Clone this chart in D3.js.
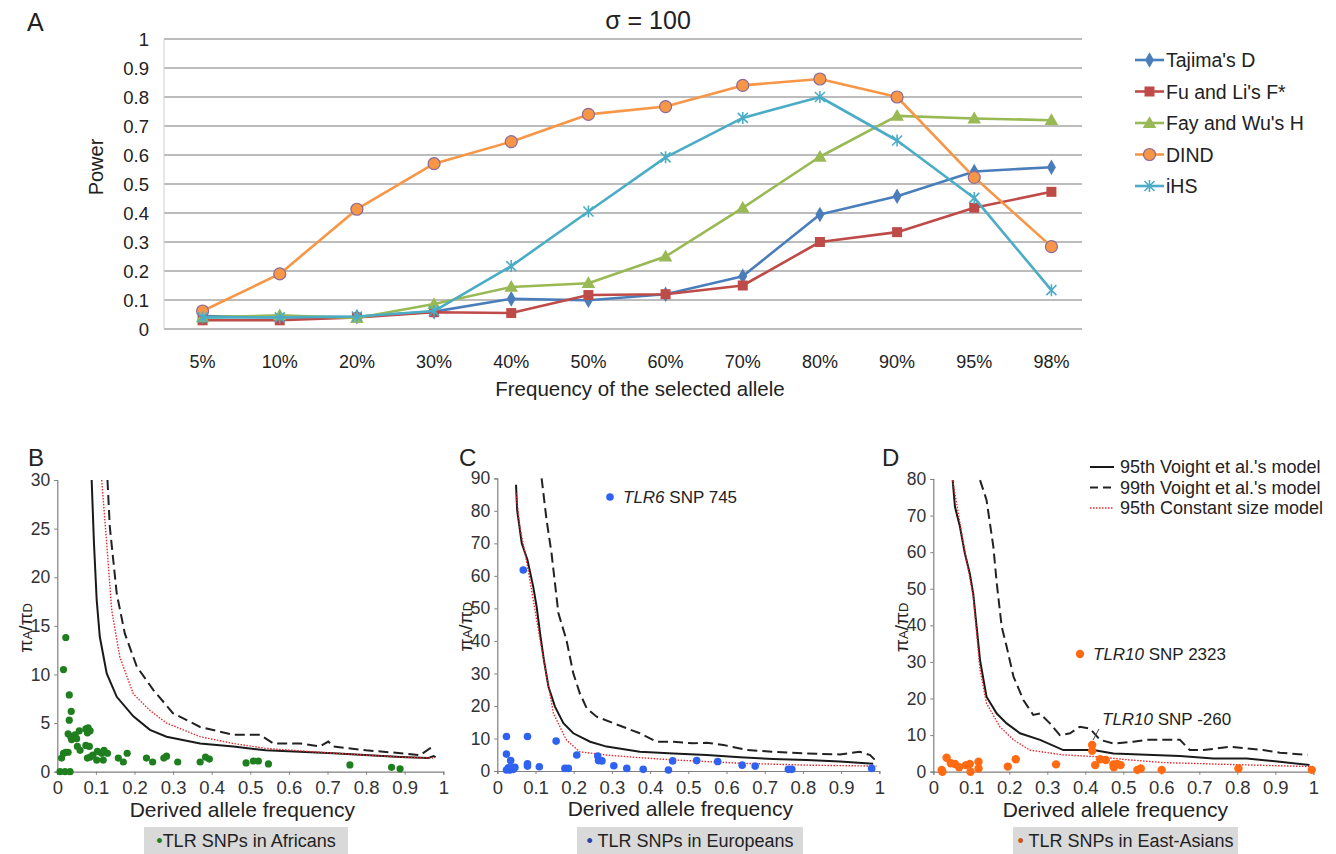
<!DOCTYPE html>
<html>
<head>
<meta charset="utf-8">
<script src="https://cdn.jsdelivr.net/npm/d3@7"></script>
<style>
  body { margin: 0; background: #fff; }
  text { font-family: "Liberation Sans", Arial, sans-serif; }
</style>
</head>
<body>
<div id="fig"></div>
<script>
// ---------------- panel A data ----------------
var freqCats = ["5%","10%","20%","30%","40%","50%","60%","70%","80%","90%","95%","98%"];
var powerTicks = [0,0.1,0.2,0.3,0.4,0.5,0.6,0.7,0.8,0.9,1];
var tajimaD = [0.045,0.04,0.042,0.06,0.104,0.099,0.12,0.182,0.395,0.458,0.543,0.558];
var fuLiF   = [0.03,0.03,0.04,0.058,0.055,0.117,0.12,0.15,0.30,0.334,0.418,0.473];
var fayWuH  = [0.04,0.047,0.038,0.086,0.145,0.158,0.25,0.418,0.594,0.735,0.726,0.72];
var dind    = [0.062,0.19,0.413,0.57,0.646,0.74,0.767,0.84,0.862,0.80,0.523,0.284];
var ihs     = [0.04,0.04,0.043,0.062,0.217,0.405,0.592,0.728,0.80,0.65,0.452,0.134];
var seriesNames = ["Tajima's D","Fu and Li's F*","Fay and Wu's H","DIND","iHS"];

// ---------------- panel B data (Africans) ----------------
var bSolid = [[0.089,30],[0.095,23.5],[0.102,17.7],[0.11,13.9],[0.128,10.1],[0.154,7.7],[0.197,5.7],[0.24,4.3],[0.283,3.6],[0.37,2.9],[0.456,2.6],[0.54,2.2],[0.715,1.9],[0.89,1.5],[0.96,1.4],[0.975,1.6],[0.98,1.5]];
var bDashed = [[0.13,30],[0.136,25.2],[0.154,18.3],[0.175,14.2],[0.206,10.8],[0.249,8.4],[0.3,6],[0.37,4.6],[0.456,3.8],[0.525,3.8],[0.56,2.9],[0.63,2.9],[0.68,2.6],[0.702,3.1],[0.715,2.6],[0.8,2.2],[0.89,1.9],[0.94,1.7],[0.965,2.4],[0.98,2.5]];
var bDotted = [[0.115,30],[0.128,23.5],[0.141,16.6],[0.162,11.8],[0.197,8],[0.24,6.3],[0.283,5],[0.37,3.6],[0.456,2.9],[0.54,2.4],[0.715,1.9],[0.89,1.5],[0.974,1.4]];
var bPoints = [[0.022,13.8],[0.016,10.5],[0.031,7.9],[0.036,6.2],[0.031,5.3],[0.028,3.9],[0.035,3.6],[0.037,3.3],[0.046,3.8],[0.05,3.4],[0.057,4.2],[0.052,2.6],[0.059,2.2],[0.074,4.4],[0.08,4.5],[0.085,4.2],[0.078,4.0],[0.074,2.7],[0.083,2.6],[0.078,1.4],[0.085,1.5],[0.092,1.7],[0.102,1.2],[0.104,2.1],[0.115,1.9],[0.119,1.2],[0.121,2.2],[0.13,1.9],[0.011,1.4],[0.016,1.9],[0.022,2.0],[0.028,2.0],[0.007,0],[0.02,0],[0.033,0],[0.158,1.4],[0.171,1.0],[0.181,1.9],[0.231,1.4],[0.247,1.0],[0.276,1.4],[0.283,1.6],[0.312,1.0],[0.37,1.0],[0.384,1.5],[0.394,1.3],[0.489,0.9],[0.508,1.1],[0.521,1.1],[0.547,0.8],[0.758,0.7],[0.866,0.45],[0.888,0.3]];

// ---------------- panel C data (Europeans) ----------------
var cSolid = [[0.049,88],[0.052,80.2],[0.064,70],[0.079,64.9],[0.094,56.7],[0.103,50.5],[0.112,42.3],[0.122,34.1],[0.134,25.9],[0.151,19.8],[0.173,14.7],[0.199,11.6],[0.243,9.0],[0.286,7.5],[0.373,5.9],[0.461,5.4],[0.548,4.9],[0.635,4.2],[0.722,3.7],[0.81,3.4],[0.897,2.9],[0.984,2.2]];
var cDashed = [[0.116,90],[0.129,77.2],[0.142,66.9],[0.151,57.7],[0.16,48.5],[0.181,40.3],[0.199,30],[0.216,23.9],[0.234,19.3],[0.26,16.7],[0.304,14.7],[0.373,11.6],[0.417,9.0],[0.461,9.0],[0.513,8.5],[0.548,8.7],[0.592,8.0],[0.653,6.5],[0.722,5.9],[0.81,5.4],[0.897,5.1],[0.949,5.9],[0.976,4.9],[0.993,2.9]];
var cDotted = [[0.049,85.4],[0.059,75.1],[0.079,63],[0.112,40.3],[0.147,17.7],[0.181,9.5],[0.216,5.9],[0.286,4.9],[0.373,4.1],[0.461,3.4],[0.635,2.4],[0.81,1.8],[0.993,1.5]];
var cPoints = [[0.068,61.8],[0.024,10.6],[0.079,10.6],[0.154,9.2],[0.024,5.2],[0.035,3.2],[0.208,4.9],[0.263,4.6],[0.265,3.2],[0.274,3.1],[0.079,2.2],[0.079,1.5],[0.11,1.3],[0.305,1.6],[0.339,0.8],[0.382,0.5],[0.448,0.3],[0.459,3.1],[0.522,3.2],[0.577,2.9],[0.641,1.8],[0.675,1.5],[0.762,0.5],[0.771,0.5],[0.98,0.8],[0.177,0.8],[0.186,0.8],[0.024,0.3],[0.029,1.0],[0.033,0.3],[0.038,1.0],[0.042,0.5],[0.046,1.1]];

// ---------------- panel D data (East-Asians) ----------------
var dSolid = [[0.051,79.7],[0.057,72.4],[0.07,67],[0.083,59.7],[0.096,54.2],[0.105,48.7],[0.114,39.6],[0.123,30.5],[0.14,20.5],[0.167,15.9],[0.193,13.2],[0.228,10.5],[0.281,8.7],[0.342,5.9],[0.421,5.9],[0.474,5.0],[0.561,4.6],[0.649,4.3],[0.737,3.6],[0.825,3.6],[0.912,2.7],[0.99,1.8]];
var dDashed = [[0.123,79.7],[0.14,74.3],[0.158,61.5],[0.167,51.5],[0.18,39.6],[0.193,34.2],[0.211,26],[0.237,19.6],[0.263,15.5],[0.281,15.9],[0.307,13.2],[0.333,10],[0.36,10.5],[0.386,12.3],[0.412,11.8],[0.439,8.7],[0.474,7.7],[0.526,8.2],[0.561,8.7],[0.605,8.7],[0.649,8.7],[0.675,5.9],[0.711,5.9],[0.781,6.8],[0.825,6.4],[0.868,5.9],[0.912,5.2],[0.985,4.6]];
var dDotted = [[0.051,79.7],[0.08,62],[0.105,48],[0.123,27.8],[0.14,18.7],[0.175,12.3],[0.211,8.7],[0.254,5.9],[0.342,4.6],[0.43,4.1],[0.518,3.2],[0.605,2.5],[0.737,2.1],[0.99,1.4]];
var dPoints = [[0.022,0.5],[0.024,0],[0.035,3.8],[0.046,2.3],[0.057,2.1],[0.068,1.2],[0.086,1.8],[0.096,2.1],[0.098,0],[0.119,2.7],[0.119,0.9],[0.196,1.4],[0.217,3.4],[0.323,2.0],[0.418,7.3],[0.418,5.7],[0.426,1.8],[0.439,3.4],[0.454,3.2],[0.474,2.0],[0.475,1.2],[0.484,2.1],[0.493,1.8],[0.537,0.5],[0.546,0.9],[0.601,0.5],[0.803,0.9],[0.996,0.5]];

var dafTicks = [0,0.1,0.2,0.3,0.4,0.5,0.6,0.7,0.8,0.9,1];
var modelNames = ["95th Voight et al.'s model","99th Voight et al.'s model","95th Constant size model"];

var svg = d3.select("#fig").append("svg")
    .attr("width", 1336)
    .attr("height", 854);

//------------------- panel A -------------------
var xA = d3.scaleBand().domain(freqCats).range([164, 1090]);
var yA = d3.scaleLinear().domain([0, 1]).range([329, 39]);
var cx = function(c) { return xA(c) + xA.bandwidth() / 2; };

var gA = svg.append("g");

gA.selectAll(".gridA").data(powerTicks).enter().append("line")
    .attr("x1", 164).attr("x2", 1082)
    .attr("y1", function(d){ return yA(d); })
    .attr("y2", function(d){ return yA(d); })
    .attr("stroke", "#a6a6a6").attr("stroke-width", 1.6);

gA.append("line")
    .attr("x1", 164).attr("x2", 164)
    .attr("y1", yA(1)).attr("y2", yA(0))
    .attr("stroke", "#d0d0d0").attr("stroke-width", 1);

gA.selectAll(".ytA").data(powerTicks).enter().append("text")
    .attr("x", 149).attr("y", function(d){ return yA(d) + 6.5; })
    .attr("text-anchor", "end").attr("font-size", 18.5).attr("fill", "#222")
    .text(function(d){ return d3.format("")(d); });

gA.selectAll(".xtA").data(freqCats).enter().append("text")
    .attr("x", cx).attr("y", 368)
    .attr("text-anchor", "middle").attr("font-size", 18).attr("fill", "#222")
    .text(function(d){ return d; });

gA.append("text").attr("x", 640).attr("y", 396)
    .attr("text-anchor", "middle").attr("font-size", 20.5).attr("fill", "#222")
    .text("Frequency of the selected allele");

gA.append("text")
    .attr("transform", "translate(103,167)rotate(-90)")
    .attr("text-anchor", "middle").attr("font-size", 20).attr("fill", "#222")
    .text("Power");

gA.append("text").attr("x", 648).attr("y", 29)
    .attr("text-anchor", "middle").attr("font-size", 25).attr("fill", "#222")
    .text("\u03c3 = 100");

svg.append("text").attr("x", 27).attr("y", 31)
    .attr("font-size", 25).attr("fill", "#222").text("A");

var seriesA = [
  {name: seriesNames[0], values: tajimaD, color: "#4a7ebb", marker: "diamond"},
  {name: seriesNames[1], values: fuLiF,   color: "#be4b48", marker: "square"},
  {name: seriesNames[2], values: fayWuH,  color: "#98b954", marker: "triangle"},
  {name: seriesNames[3], values: dind,    color: "#f79646", marker: "circle"},
  {name: seriesNames[4], values: ihs,     color: "#4bacc6", marker: "star"}
];

function drawMarker(g, type, color, x, y) {
  if (type == "diamond") {
    g.append("path").attr("d", d3.symbol(d3.symbolDiamond, 70)())
      .attr("transform", "translate(" + x + "," + y + ")").attr("fill", color);
  } else if (type == "square") {
    g.append("rect").attr("x", x - 5).attr("y", y - 5).attr("width", 10).attr("height", 10)
      .attr("fill", color);
  } else if (type == "triangle") {
    g.append("path").attr("d", d3.symbol(d3.symbolTriangle, 80)())
      .attr("transform", "translate(" + x + "," + (y + 1) + ")").attr("fill", color);
  } else if (type == "circle") {
    g.append("circle").attr("cx", x).attr("cy", y).attr("r", 6)
      .attr("fill", "#f79646").attr("stroke", "#8a6a9a").attr("stroke-width", 1.2);
  } else {
    g.append("path")
      .attr("d", "M" + (x-5) + "," + (y-5) + "L" + (x+5) + "," + (y+5) +
                 "M" + (x-5) + "," + (y+5) + "L" + (x+5) + "," + (y-5) +
                 "M" + x + "," + (y-6) + "L" + x + "," + (y+6))
      .attr("stroke", color).attr("stroke-width", 1.6).attr("fill", "none");
  }
}

var lineA = d3.line()
    .x(function(d, i){ return cx(freqCats[i]); })
    .y(function(d){ return yA(d); });

seriesA.forEach(function(s) {
  var gs = gA.append("g");
  gs.append("path").attr("d", lineA(s.values))
    .attr("fill", "none").attr("stroke", s.color).attr("stroke-width", 2.6)
    .attr("stroke-linejoin", "round");
  s.values.forEach(function(v, i) {
    drawMarker(gs, s.marker, s.color, cx(freqCats[i]), yA(v));
  });
});

// legend A
seriesA.forEach(function(s, i) {
  var ly = 60 + i * 31.5;
  var gl = gA.append("g");
  gl.append("line").attr("x1", 1135).attr("x2", 1164).attr("y1", ly).attr("y2", ly)
    .attr("stroke", s.color).attr("stroke-width", 2.6);
  drawMarker(gl, s.marker, s.color, 1149.5, ly);
  gl.append("text").attr("x", 1166).attr("y", ly + 7)
    .attr("font-size", 19.5).attr("fill", "#222").text(s.name);
});

//------------------- panels B, C, D -------------------
function drawPanel(cfg) {
  var x = d3.scaleLinear().domain([0, 1]).range([cfg.x0, cfg.x1]);
  var y = d3.scaleLinear().domain([0, cfg.ymax]).range([cfg.yb, cfg.yt]);
  var g = svg.append("g");

  g.append("g")
    .attr("transform", "translate(0," + cfg.yb + ")")
    .call(d3.axisBottom(x).tickValues(dafTicks).tickSize(3).tickFormat(d3.format("")))
    .call(function(a) {
      a.select(".domain").attr("stroke", "#808080").attr("stroke-width", 1.2);
      a.selectAll(".tick line").attr("stroke", "#808080");
      a.selectAll("text").attr("font-size", 18.5).attr("fill", "#333").attr("dy", "0.9em")
        .attr("font-family", "Liberation Sans, Arial, sans-serif");
    });

  g.append("g")
    .attr("transform", "translate(" + cfg.x0 + ",0)")
    .call(d3.axisLeft(y).tickValues(d3.range(0, cfg.ymax + 1, cfg.step)).tickSize(3).tickPadding(4))
    .call(function(a) {
      a.select(".domain").attr("stroke", "#808080").attr("stroke-width", 1.2);
      a.selectAll(".tick line").attr("stroke", "#808080");
      a.selectAll("text").attr("font-size", 17.5).attr("fill", "#333")
        .attr("font-family", "Liberation Sans, Arial, sans-serif");
    });

  var line = d3.line()
      .x(function(d){ return x(d[0]); })
      .y(function(d){ return y(d[1]); });

  g.append("path").attr("d", line(cfg.dashed))
    .attr("fill", "none").attr("stroke", "#222").attr("stroke-width", 2)
    .attr("stroke-dasharray", "10,5");
  g.append("path").attr("d", line(cfg.solid))
    .attr("fill", "none").attr("stroke", "#1a1a1a").attr("stroke-width", 2);
  g.append("path").attr("d", line(cfg.dotted))
    .attr("fill", "none").attr("stroke", "#e8282e").attr("stroke-width", 1.4)
    .attr("stroke-dasharray", "1.5,1.5");

  g.selectAll(".pt").data(cfg.points).enter().append("circle")
    .attr("cx", function(d){ return x(d[0]); })
    .attr("cy", function(d){ return y(d[1]); })
    .attr("r", cfg.r).attr("fill", cfg.color);

  // axis titles
  g.append("text").attr("x", (cfg.x0 + cfg.x1) / 2 - 8).attr("y", cfg.yb + 45)
    .attr("text-anchor", "middle").attr("font-size", 21).attr("fill", "#222")
    .text("Derived allele frequency");

  var yl = g.append("text")
    .attr("transform", "translate(" + (cfg.x0 - 25) + "," + ((cfg.yb + cfg.yt) / 2 + 2) + ")rotate(-90)")
    .attr("text-anchor", "middle").attr("font-size", 19).attr("fill", "#222");
  yl.append("tspan").text("\u03c0");
  yl.append("tspan").attr("font-size", 13).text("A");
  yl.append("tspan").text("/\u03c0");
  yl.append("tspan").attr("font-size", 13).text("D");

  // panel letter
  svg.append("text").attr("x", cfg.lx).attr("y", 466)
    .attr("font-size", 24).attr("fill", "#222").text(cfg.letter);

  // bottom legend box
  g.append("rect").attr("x", cfg.bx0).attr("y", 827).attr("width", cfg.bx1 - cfg.bx0).attr("height", 27)
    .attr("fill", "#d9d9d9");
  var lt = g.append("text").attr("x", (cfg.bx0 + cfg.bx1) / 2).attr("y", 847)
    .attr("text-anchor", "middle").attr("font-size", 18).attr("fill", "#222");
  lt.append("tspan").attr("fill", cfg.dotColor).text(cfg.gap ? "\u2022 " : "\u2022");
  lt.append("tspan").text(cfg.legend);

  return {x: x, y: y, g: g};
}

var pB = drawPanel({letter: "B", lx: 28, x0: 57.3, x1: 443.3, yb: 771.7, yt: 480, ymax: 30, step: 5,
  solid: bSolid, dashed: bDashed, dotted: bDotted, points: bPoints, color: "#1f7f1f", r: 3.6,
  bx0: 144, bx1: 348, legend: "TLR SNPs in Africans", dotColor: "#1f7f1f", gap: false});

var pC = drawPanel({letter: "C", lx: 459, x0: 497.3, x1: 879.3, yb: 771, yt: 478.3, ymax: 90, step: 10,
  solid: cSolid, dashed: cDashed, dotted: cDotted, points: cPoints, color: "#2f62f0", r: 3.8,
  bx0: 577, bx1: 803, legend: "TLR SNPs in Europeans", dotColor: "#2f3fb0", gap: true});

var pD = drawPanel({letter: "D", lx: 882, x0: 933.3, x1: 1313.3, yb: 771.7, yt: 479, ymax: 80, step: 10,
  solid: dSolid, dashed: dDashed, dotted: dDotted, points: dPoints, color: "#ff6a13", r: 4.2,
  bx0: 1013, bx1: 1238, legend: "TLR SNPs in East-Asians", dotColor: "#c8561a", gap: true});

// annotations
pC.g.append("circle").attr("cx", 610).attr("cy", 497).attr("r", 3.8).attr("fill", "#2f62f0");
var tC = pC.g.append("text").attr("x", 623).attr("y", 503).attr("font-size", 17).attr("fill", "#222");
tC.append("tspan").attr("font-style", "italic").text("TLR6");
tC.append("tspan").text(" SNP 745");

pD.g.append("circle").attr("cx", 1080).attr("cy", 654).attr("r", 4.2).attr("fill", "#ff6a13");
var tD1 = pD.g.append("text").attr("x", 1093).attr("y", 660).attr("font-size", 17).attr("fill", "#222");
tD1.append("tspan").attr("font-style", "italic").text("TLR10");
tD1.append("tspan").text(" SNP 2323");

var tD2 = pD.g.append("text").attr("x", 1102).attr("y", 725).attr("font-size", 17).attr("fill", "#222");
tD2.append("tspan").attr("font-style", "italic").text("TLR10");
tD2.append("tspan").text(" SNP -260");
pD.g.append("line").attr("x1", 1099).attr("y1", 729).attr("x2", 1093).attr("y2", 740)
  .attr("stroke", "#444").attr("stroke-width", 1);

// model legend (panel D)
var modelStyles = [
  {dash: null, color: "#1a1a1a", w: 2},
  {dash: "8,5", color: "#222", w: 2},
  {dash: "1.5,1.5", color: "#e8282e", w: 1.4}
];
modelNames.forEach(function(n, i) {
  var ly = 467 + i * 20.5;
  var l = svg.append("line").attr("x1", 1090).attr("x2", 1114).attr("y1", ly).attr("y2", ly)
    .attr("stroke", modelStyles[i].color).attr("stroke-width", modelStyles[i].w);
  if (modelStyles[i].dash) l.attr("stroke-dasharray", modelStyles[i].dash);
  svg.append("text").attr("x", 1120).attr("y", ly + 6)
    .attr("font-size", 18).attr("fill", "#222").text(n);
});
</script>
</body>
</html>
